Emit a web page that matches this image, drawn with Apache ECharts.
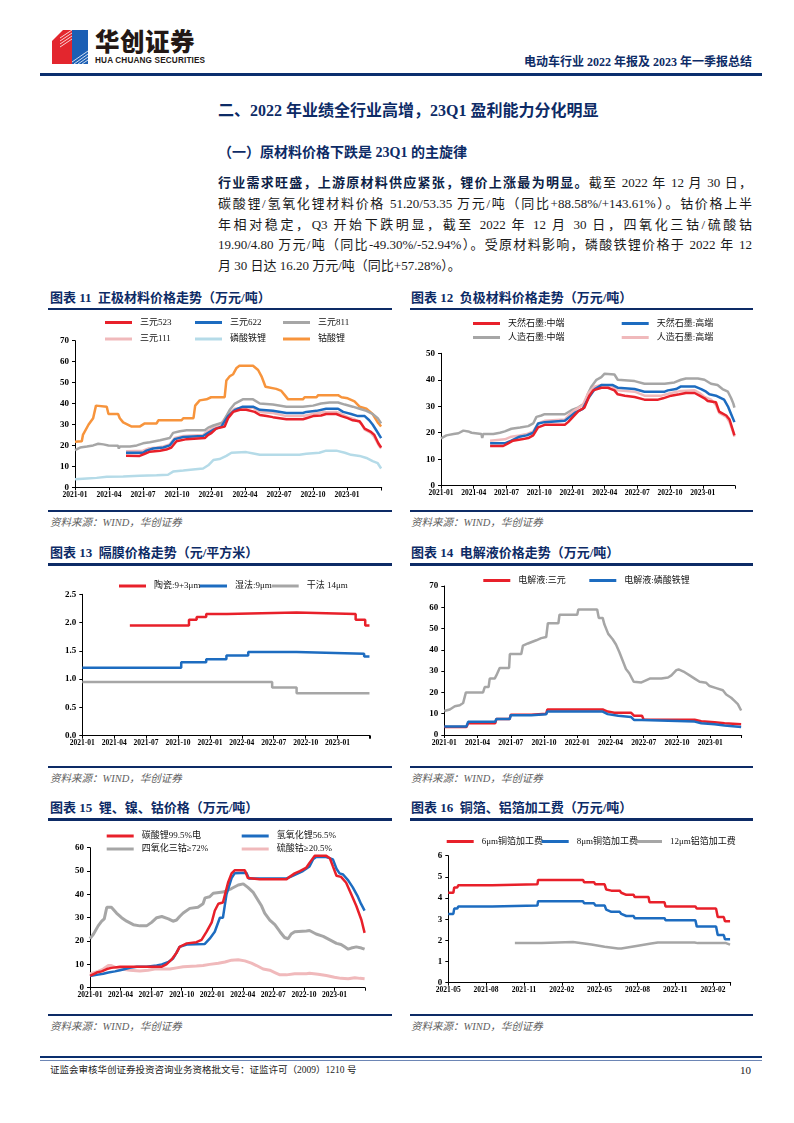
<!DOCTYPE html>
<html><head><meta charset="utf-8">
<script src="https://cdn.jsdelivr.net/npm/echarts@6/dist/echarts.min.js"></script>
<style>
html,body{margin:0;padding:0;background:#fff;}
#page{position:relative;width:794px;height:1123px;overflow:hidden;font-family:"Liberation Serif","Noto Sans CJK SC",serif;color:#111;}
.abs{position:absolute;white-space:nowrap;}
.navy{color:#0d2b66;}
.ttl{font-size:13px;font-weight:bold;color:#0d2b66;line-height:16px;}
.bar{position:absolute;background:#0d2b66;height:2.5px;}
.src{font-size:10.5px;font-style:italic;color:#606060;line-height:14px;}
.chart{position:absolute;width:360px;height:200px;}
.para{position:absolute;left:218px;width:534px;font-size:13px;line-height:16px;text-align:justify;text-align-last:justify;white-space:nowrap;color:#1a1a1a;}
</style></head>
<body><div id="page">
<!-- logo -->
<svg class="abs" style="left:52px;top:29px" width="40" height="36" viewBox="0 0 40 36">
  <polygon points="0,12 11,1 20,1 20,35 0,35" fill="#e3262e"/>
  <rect x="20" y="1" width="16" height="34" fill="#1c5fb4"/>
  <g stroke="#fff" stroke-width="0.8">
    <line x1="8" y1="9" x2="20" y2="1"/><line x1="8" y1="12" x2="20" y2="4"/><line x1="8" y1="15" x2="20" y2="7"/><line x1="8" y1="18" x2="20" y2="10"/>
    <line x1="20" y1="33" x2="36" y2="22"/><line x1="22" y1="35" x2="36" y2="25"/><line x1="26" y1="35" x2="36" y2="28"/><line x1="30" y1="35" x2="36" y2="31"/>
  </g>
</svg>
<div class="abs" style="left:95px;top:26px;font-family:'Noto Sans CJK SC';font-weight:900;font-size:24.5px;line-height:30px;color:#231815;letter-spacing:0.5px">华创证券</div>
<div class="abs" style="left:95px;top:56px;font-family:'Liberation Sans';font-weight:bold;font-size:8.2px;line-height:9px;color:#231815;letter-spacing:0.15px">HUA CHUANG SECURITIES</div>
<div class="abs navy" style="right:42px;top:54px;font-size:12px;font-weight:bold;line-height:16px">电动车行业 2022 年报及 2023 年一季报总结</div>
<div class="abs" style="left:40px;top:73px;width:722px;height:3px;background:#0a2f6e"></div>

<div class="abs navy" style="left:218px;top:102px;font-size:16px;font-weight:bold;line-height:18px">二、2022 年业绩全行业高增，23Q1 盈利能力分化明显</div>
<div class="abs navy" style="left:218px;top:145px;font-size:14px;font-weight:bold;line-height:16px">（一）原材料价格下跌是 23Q1 的主旋律</div>

<div class="para" style="top:175px"><b style="color:#0d1f47">行业需求旺盛，上游原材料供应紧张，锂价上涨最为明显。</b>截至 2022 年 12 月 30 日，</div>
<div class="para" style="top:196px">碳酸锂/氢氧化锂材料价格 51.20/53.35 万元/吨（同比+88.58%/+143.61%）。钴价格上半</div>
<div class="para" style="top:216.5px">年相对稳定，Q3 开始下跌明显，截至 2022 年 12 月 30 日，四氧化三钴/硫酸钴</div>
<div class="para" style="top:237px">19.90/4.80 万元/吨（同比-49.30%/-52.94%）。受原材料影响，磷酸铁锂价格于 2022 年 12</div>
<div class="para" style="top:258px;text-align-last:left">月 30 日达 16.20 万元/吨（同比+57.28%）。</div>

<!-- chart titles -->
<div class="abs ttl" style="left:50px;top:290px">图表 11&nbsp; 正极材料价格走势（万元/吨）</div>
<div class="abs ttl" style="left:411px;top:290px">图表 12&nbsp; 负极材料价格走势（万元/吨）</div>
<div class="bar" style="left:48px;top:307.5px;width:344px"></div>
<div class="bar" style="left:410px;top:307.5px;width:343px"></div>
<div class="bar" style="left:48px;top:509.5px;width:344px"></div>
<div class="bar" style="left:410px;top:509.5px;width:343px"></div>
<div class="abs src" style="left:50px;top:516px">资料来源：WIND，华创证券</div>
<div class="abs src" style="left:411px;top:516px">资料来源：WIND，华创证券</div>

<div class="abs ttl" style="left:50px;top:545px">图表 13&nbsp; 隔膜价格走势（元/平方米）</div>
<div class="abs ttl" style="left:411px;top:545px">图表 14&nbsp; 电解液价格走势（万元/吨）</div>
<div class="bar" style="left:48px;top:563px;width:344px"></div>
<div class="bar" style="left:410px;top:563px;width:343px"></div>
<div class="bar" style="left:48px;top:765.5px;width:344px"></div>
<div class="bar" style="left:410px;top:765.5px;width:343px"></div>
<div class="abs src" style="left:50px;top:772px">资料来源：WIND，华创证券</div>
<div class="abs src" style="left:411px;top:772px">资料来源：WIND，华创证券</div>

<div class="abs ttl" style="left:50px;top:800px">图表 15&nbsp; 锂、镍、钴价格（万元/吨）</div>
<div class="abs ttl" style="left:411px;top:800px">图表 16&nbsp; 铜箔、铝箔加工费（万元/吨）</div>
<div class="bar" style="left:48px;top:818px;width:344px"></div>
<div class="bar" style="left:410px;top:818px;width:343px"></div>
<div class="bar" style="left:48px;top:1013.5px;width:344px"></div>
<div class="bar" style="left:410px;top:1013.5px;width:343px"></div>
<div class="abs src" style="left:50px;top:1020px">资料来源：WIND，华创证券</div>
<div class="abs src" style="left:411px;top:1020px">资料来源：WIND，华创证券</div>

<div id="c11" class="chart" style="left:40px;top:310px"></div>
<div id="c12" class="chart" style="left:405px;top:310px"></div>
<div id="c13" class="chart" style="left:40px;top:565px"></div>
<div id="c14" class="chart" style="left:405px;top:565px"></div>
<div id="c15" class="chart" style="left:40px;top:820px"></div>
<div id="c16" class="chart" style="left:405px;top:820px"></div>

<div class="abs" style="left:40px;top:1056px;width:722px;height:2px;background:#0a2f6e"></div>
<div class="abs" style="left:40px;top:1059.5px;width:722px;height:1px;background:#6d86b5"></div>
<div class="abs" style="left:50px;top:1064px;font-size:9.5px;line-height:13px;color:#222">证监会审核华创证券投资咨询业务资格批文号：证监许可（2009）1210 号</div>
<div class="abs" style="left:740px;top:1063px;font-size:11px;line-height:14px;color:#222">10</div>
</div>

<script>
// x values = months elapsed since the chart's first axis month (fractional)
// ---- 图表11 正极材料 (万元/吨), base 2021-01
const T11_523 = [[4.5,15.1],[5.7,15],[6.15,16],[6.6,17],[7.5,17.5],[8.05,18],[8.5,19],[8.95,22],[9.85,23],[11.45,23.5],[11.75,25],[12.05,26],[12.45,28],[13.2,29],[13.5,33],[13.95,36],[14.55,37],[15.1,37],[15.85,36],[16.3,34.5],[16.9,34],[17.45,33.5],[18.65,32.5],[20.1,32.5],[20.4,33],[21.0,34],[21.7,34.3],[22.15,35],[23.05,35],[23.5,34],[24.05,33],[24.5,32],[25.1,31.5],[25.55,28],[26.1,26.5],[26.4,25],[26.75,21],[27,19]];
const T11_622 = [[4.5,16.5],[6.0,16.5],[6.3,17.5],[6.9,18.5],[7.8,19],[8.35,20],[8.8,23],[9.55,24],[11.3,24.5],[11.75,26],[12.2,27.5],[12.9,29],[13.5,34],[14.1,37],[14.8,38.5],[15.7,38.5],[16.3,37],[17.45,36.5],[18.65,35.5],[20.1,35.5],[20.4,36],[21.3,36.5],[22.15,37.5],[23.2,37.5],[23.65,36],[24.35,35],[24.95,34],[25.55,34],[25.95,32],[26.25,30],[26.6,27],[27,23.5]];
const T11_811 = [[0,17.8],[0.45,19],[1.05,19.5],[1.6,20],[2.05,20.8],[2.5,20.5],[2.95,20],[3.8,19.8],[3.87,18.5],[3.95,19.5],[4.85,19.5],[5.45,20],[6.0,21],[6.6,21.5],[7.5,22.5],[8.35,23.5],[8.65,26],[9.25,26.8],[9.85,27.2],[11.45,27.2],[11.75,28.5],[12.2,29.5],[13.05,31],[13.65,37],[14.1,40],[14.8,42],[15.7,42],[16.3,40],[17.45,39.5],[18.65,38.5],[20.1,38.5],[21.0,39],[21.7,40],[22.45,40.5],[23.2,40.5],[23.8,39.5],[24.5,38.5],[25.1,37.5],[25.7,36.5],[26.25,35],[26.7,33],[27,30.5]];
const T11_111 = [[4.5,17.2],[6.0,17.5],[6.45,18.5],[7.2,19],[7.8,19.5],[8.35,20.5],[8.8,23.5],[9.55,24.5],[11.3,25],[11.75,27],[12.2,28.5],[12.9,30.5],[13.5,35],[14.1,37.5],[14.8,38],[15.7,38],[16.3,36],[17.45,35.5],[18.65,34],[20.1,34],[21.0,35],[21.85,35.8],[23.05,36],[23.5,35],[24.05,33.5],[24.65,32.5],[25.25,30.5],[25.55,27.5],[26.1,26],[26.4,24],[26.8,20],[27,18.5]];
const T11_LFP = [[0,3.8],[1.05,4.2],[1.9,4.5],[2.8,5],[4.25,5.2],[5.7,5.5],[7.2,5.7],[8.2,6],[8.65,7.5],[9.55,8],[10.4,8.5],[11.3,9],[11.75,10.5],[12.2,13],[12.75,13.5],[13.35,15],[13.8,16.5],[15.1,16.8],[15.85,16],[16.3,15.5],[19.8,15.5],[20.4,16],[21.55,16.5],[22.15,17.5],[23.05,17.5],[23.8,16.5],[24.35,15.5],[25.1,15],[25.7,14],[26.25,12.5],[26.7,11.5],[27,9]];
const T11_LCO = [[0,21.8],[0.6,22],[0.7,25],[1.2,30],[1.6,33],[1.85,39],[2.8,38.5],[2.95,35],[3.8,35],[3.95,33],[4.25,31],[5.0,29],[5.7,29],[6.15,30.5],[7.2,30.5],[7.35,32],[9.4,32],[9.55,33],[10.45,33],[10.6,39],[11.0,41.5],[11.6,42],[12.0,43],[13.2,43],[13.35,51],[13.65,53],[13.95,54],[14.25,57],[14.5,58],[15.7,58],[16.15,56],[16.45,53],[16.8,48],[17.75,47],[18.2,46],[18.5,44],[18.8,42],[20.1,42],[20.25,43],[21.3,43],[21.45,44],[23.2,44],[23.5,43],[24.05,42.5],[24.65,41],[25.1,38.5],[25.7,37.5],[26.25,35],[26.7,31],[27,29]];
// ---- 图表12 负极材料, base 2021-01
const T12_NAT_MID = [[4.5,15],[5.7,15],[6.15,16],[6.6,17],[7.4,17.5],[8.0,18],[8.45,19],[8.9,22],[9.5,23],[11.35,23],[11.65,24],[12.1,26],[12.55,28],[13.15,29.5],[13.6,34],[13.95,36],[14.7,37],[15.3,37],[15.9,36],[16.2,34.5],[16.85,34],[17.75,33.5],[18.65,32.5],[19.9,32.5],[20.35,33],[21.1,34],[21.85,34.5],[22.45,35],[23.25,35],[23.7,34],[24.15,33],[24.45,32],[25.2,31.5],[25.5,28],[26.15,26.5],[26.45,25],[26.75,21],[26.9,19]];
const T12_NAT_HIGH = [[4.5,16],[5.85,16],[6.45,17],[7.2,18.5],[7.85,19],[8.45,20],[8.9,23.5],[9.5,24],[11.35,24.5],[11.8,26],[12.25,27.5],[13.0,29],[13.5,33],[14.1,36.5],[14.7,38],[15.75,38],[16.2,37],[17.75,36.5],[18.65,35.5],[20.5,35.5],[20.8,36],[21.55,36.5],[22.0,37.5],[23.25,37.5],[23.85,36.5],[24.3,35.5],[24.6,34.5],[25.2,34],[25.95,32.5],[26.3,30],[26.6,27],[26.9,24]];
const T12_ART_MID = [[0,17.9],[0.5,19],[1.15,19.5],[1.6,19.8],[2.05,20.8],[2.5,20.5],[2.8,20],[3.7,19.5],[3.78,18],[3.87,19.5],[4.8,19.5],[5.4,20],[5.85,20.5],[6.45,21.5],[7.25,22],[8.0,22.5],[8.45,23.5],[8.75,26],[9.2,26.5],[9.5,27],[11.35,27],[11.95,28.5],[12.55,29.5],[13.15,31],[13.5,35],[13.8,37.5],[14.25,40],[14.7,41],[15.0,42.3],[15.9,42],[16.2,40],[17.75,39.5],[18.65,38.5],[20.5,38.5],[21.4,39],[22.0,40],[22.45,40.5],[23.55,40.5],[24.15,40],[24.75,38.5],[25.35,38],[25.8,36.5],[26.3,35.5],[26.6,33],[26.8,31],[26.9,29.5]];
const T12_ART_HIGH = [[4.5,17],[5.85,17.5],[6.45,18.5],[7.2,19],[7.85,19.5],[8.45,20.5],[8.9,23.5],[9.5,24.5],[11.35,25],[11.8,27],[12.25,28.5],[13.0,30.5],[13.5,35],[14.1,37.5],[14.7,38],[15.6,37.8],[16.2,36],[17.75,35.5],[18.65,34],[20.2,34],[21.1,35],[22.0,35.8],[23.25,36],[23.7,35],[24.15,33.5],[24.75,32.5],[25.2,30.5],[25.5,27.5],[26.15,26],[26.45,24],[26.75,20.5],[26.9,18.5]];
// ---- 图表13 隔膜 (元/平方米), base 2021-01, step changes
const T13_CER = [[4.47,1.95],[10.03,2.05],[10.75,2.1],[11.65,2.15],[13.6,2.18],[20.15,2.15],[25.7,2.05],[26.6,1.95],[27,1.95]];
const T13_WET = [[0,1.2],[9.3,1.3],[11.65,1.35],[13.55,1.42],[15.6,1.48],[20.15,1.45],[26.5,1.4],[27,1.4]];
const T13_DRY = [[0,0.95],[17.85,0.85],[20.15,0.75],[27,0.75]];
// ---- 图表14 电解液, base 2021-01
const T14_LIPF6 = [[0,11.3],[0.5,12],[0.95,13.5],[1.4,14],[1.7,15],[1.95,20],[3.5,20],[3.65,22.5],[4.0,22.5],[4.1,26.5],[4.55,26.5],[4.7,28],[5.0,31.5],[5.85,31.5],[5.92,38],[6.95,38],[7.1,42],[7.55,43],[8.3,44.5],[8.75,45.5],[9.2,46],[9.35,52.5],[10.3,52.5],[10.4,56.5],[12.0,56.5],[12.1,59],[13.8,59],[13.95,55],[14.3,55],[14.45,52],[14.8,47.5],[15.2,45],[15.5,42.5],[15.8,39],[16.1,35],[16.4,31],[16.7,29],[17.1,25],[17.8,24.7],[18.55,26.5],[19.6,26.5],[20.2,27],[20.5,28],[20.95,30.5],[21.15,30.8],[21.7,29.5],[22.15,28],[22.6,26.5],[23.05,25],[23.65,24.5],[23.95,23],[24.55,22],[25.15,21],[25.45,19],[25.9,17.5],[26.2,16],[26.5,14.5],[26.8,11.5]];
const T14_NCM = [[0,3.8],[2.0,3.8],[2.15,5.5],[4.6,5.5],[4.7,7.5],[5.9,7.5],[6.0,9.5],[7.85,9.5],[8.0,10],[9.2,10],[9.3,12],[14.3,12],[14.75,11],[15.35,10.5],[16.85,10.5],[17.15,9],[17.85,9],[18.0,7.2],[22.6,7.2],[23.2,6.5],[24.4,6],[25.3,5.5],[26.8,5]];
const T14_LFP = [[0,4],[2.0,4],[2.15,6.2],[4.6,6.2],[4.7,7.5],[5.9,7.5],[6.0,9.3],[7.85,9.3],[8.0,9.8],[9.2,9.8],[9.3,11],[14.3,11],[14.75,9.8],[15.7,9],[16.85,8.5],[17.15,7],[17.85,7],[18.0,6.3],[22.6,6.3],[23.2,5.5],[24.4,5],[25.3,4.5],[26.8,3.8]];
// ---- 图表15 锂、镍、钴价格, base 2021-01
const T15_LI2CO3 = [[0,5.1],[0.65,6.5],[1.15,7],[1.65,8],[2.1,8.5],[2.95,9],[5.9,9],[7.05,9],[7.5,10],[8.0,12],[8.5,15],[8.8,17.5],[9.5,19],[10.45,19.5],[10.95,20.5],[11.45,24],[11.95,28],[12.25,33],[12.6,36],[13.05,36.5],[13.55,45],[13.9,49],[14.2,50.3],[15.2,50.3],[15.5,47],[16.65,46.5],[19.3,46.5],[19.6,47.5],[20.1,49],[20.6,50],[21.25,51.5],[21.55,53.5],[22.05,56.5],[23.2,56.5],[23.55,55.5],[23.85,52],[24.2,48],[24.65,47.5],[25.15,45],[25.65,40],[26.15,35],[26.65,29],[26.96,23.5]];
const T15_LIOH = [[0,5],[0.65,5.5],[1.3,6],[1.8,6.5],[2.45,7],[2.95,7.5],[3.45,8],[3.9,8.5],[4.6,9],[5.55,9],[6.55,9.5],[7.05,10],[7.7,11],[8.15,12.5],[8.5,15],[8.8,17.5],[9.5,18.5],[11.25,18.7],[11.75,21],[12.25,24],[12.75,30],[13.05,30],[13.4,40],[13.9,47],[14.2,49],[15.35,49.3],[15.6,46.8],[19.3,46.8],[19.95,48],[20.9,50],[21.55,52],[21.9,55],[22.2,56],[23.2,56],[23.85,55],[24.2,51],[24.5,49],[24.85,48.5],[25.35,46],[25.8,43],[26.3,39],[26.6,36],[26.96,33]];
const T15_CO3O4 = [[0,21],[0.35,23],[0.8,26.5],[1.15,28.5],[1.4,29.5],[1.65,34.5],[2.1,34.5],[2.6,32],[3.1,30],[3.6,28.5],[4.25,27],[4.9,26.5],[5.55,26.5],[6.05,28],[6.55,30],[7.05,30.5],[7.7,29.5],[8.15,28.5],[8.5,29],[8.8,30.5],[9.15,32],[9.8,34],[10.6,34.5],[11.1,36],[11.3,38.5],[11.75,39],[12.1,40.5],[13.05,41],[13.9,42.5],[14.55,44],[15.05,44.5],[15.5,43],[16.0,41],[16.5,37.5],[16.85,35],[17.15,32],[17.65,29],[18.15,27],[18.65,24],[19.1,21.5],[19.45,21],[19.75,23],[20.1,24],[21.25,24.3],[21.55,24.5],[22.2,23],[22.9,22],[23.55,20.5],[24.2,19],[24.65,18.5],[25.0,17.5],[25.35,16.5],[25.65,17],[26.15,17.5],[26.65,17],[26.96,16.5]];
const T15_COSO4 = [[0,5.9],[0.8,7],[1.3,8],[1.8,9.5],[2.1,9.5],[2.6,8.5],[3.1,8],[3.9,7.5],[4.9,7.2],[5.7,7.5],[6.35,8],[7.85,8],[8.5,8.5],[9.15,9],[10.45,9.3],[11.1,9.5],[11.75,10],[12.6,10.5],[13.25,11],[13.9,11.8],[14.55,12],[15.2,11.5],[15.85,10.5],[16.35,9.5],[17.0,8],[17.65,7.5],[18.15,6.5],[18.65,5.5],[19.3,5.5],[20.1,6],[21.25,6],[21.55,6.2],[22.4,5.8],[23.2,5.2],[24.0,4.5],[24.65,4],[25.35,3.8],[26.0,4.3],[26.5,4],[26.96,3.8]];
// ---- 图表16 铜箔/铝箔加工费, base 2021-05
const T16_CU6 = [[0,4.25],[0.4,4.25],[0.47,4.5],[0.71,4.5],[0.79,4.6],[3.48,4.6],[3.56,4.65],[7.07,4.65],[7.12,4.85],[10.69,4.85],[10.77,4.75],[11.56,4.75],[11.66,4.65],[12.4,4.65],[12.53,4.4],[12.93,4.35],[13.59,4.35],[13.72,4.25],[14.12,4.15],[14.7,4.15],[14.78,4.05],[15.88,4.05],[15.96,3.8],[17.15,3.8],[17.23,3.6],[19.6,3.6],[19.71,3.5],[21.24,3.5],[21.37,3.1],[21.85,3.1],[21.95,2.9],[22.35,2.9]];
const T16_CU8 = [[0,3.25],[0.4,3.25],[0.47,3.5],[0.71,3.5],[0.79,3.6],[3.48,3.6],[3.56,3.65],[7.07,3.65],[7.12,3.85],[10.69,3.85],[10.77,3.75],[11.56,3.75],[11.66,3.65],[12.4,3.65],[12.53,3.45],[12.93,3.35],[13.59,3.35],[13.72,3.25],[14.12,3.15],[14.7,3.15],[14.78,3.05],[17.15,3.05],[17.23,2.95],[19.6,2.95],[19.71,2.65],[21.24,2.65],[21.37,2.25],[21.85,2.25],[21.95,2.05],[22.35,2.05]];
const T16_AL12 = [[5.28,1.87],[7.39,1.87],[7.52,1.92],[9.89,1.92],[11.35,1.8],[12.4,1.7],[13.46,1.62],[13.72,1.62],[15.04,1.75],[16.09,1.85],[16.62,1.9],[19.53,1.9],[19.79,1.87],[22.03,1.87],[22.35,1.8]];

const C = {red:'#e8202a', blue:'#1d6cc0', gray:'#a6a6a6', pink:'#f0b9bb', lblue:'#b5dbe8', orange:'#f7943c'};
const FONT = '"Liberation Serif","Noto Sans CJK SC",serif';

function monthLabel(baseY, baseM, last){
  return function(v){
    if (v > last + 0.01) return '';
    const t = baseM - 1 + Math.round(v);
    const y = baseY + Math.floor(t/12), m = t%12 + 1;
    return y + '-' + (m<10?'0':'') + m;
  };
}
function line(name, data, color, width, step){
  return {type:'line', name:name, data:data, symbol:'none', step:step||false, smooth:false,
    lineStyle:{color:color, width:width||2.5}, itemStyle:{color:color}, emphasis:{disabled:true}};
}
function legends(items){
  return items.map(it => ({data:[it[0]], left:it[1], top:it[2], icon:'rect', itemWidth:27, itemHeight:3,
    itemGap:0, padding:0, selectedMode:false,
    textStyle:{fontSize:9, fontFamily:FONT, color:'#111', padding:[0,0,0,3]}}));
}
function build(id, o){
  const ch = echarts.init(document.getElementById(id), null, {renderer:'canvas'});
  ch.setOption({
    animation:false,
    grid:o.grid,
    legend:legends(o.legend),
    xAxis:{type:'value', min:0, max:o.xmax, interval:3,
      axisLine:{show:true, lineStyle:{color:'#000', width:1}},
      axisTick:{show:true, length:3, lineStyle:{color:'#000'}},
      splitLine:{show:false},
      axisLabel:{formatter:o.fmt, fontSize:7.5, fontWeight:'bold', fontFamily:FONT, color:'#000', margin:4}},
    yAxis:{type:'value', min:0, max:o.ymax, interval:o.yint,
      axisLine:{show:true, lineStyle:{color:'#000', width:1}},
      axisTick:{show:true, length:3, lineStyle:{color:'#000'}},
      splitLine:{show:false},
      axisLabel:{formatter:o.yfmt, fontSize:9, fontWeight:'bold', fontFamily:FONT, color:'#000', margin:6}},
    series:o.series
  });
}
const f2021 = monthLabel(2021,1,24);
build('c11', {grid:{left:35, top:30.7, right:18.3, bottom:22.7}, xmax:27.05, ymax:70, yint:10, fmt:f2021,
  legend:[['三元523',65,8],['三元622',155,8],['三元811',243,8],['三元111',65,24.5],['磷酸铁锂',155,24.5],['钴酸锂',243,24.5]],
  series:[line('三元111',T11_111,C.pink), line('磷酸铁锂',T11_LFP,C.lblue), line('钴酸锂',T11_LCO,C.orange),
          line('三元811',T11_811,C.gray), line('三元622',T11_622,C.blue), line('三元523',T11_523,C.red)]});
build('c12', {grid:{left:36, top:43.3, right:30, bottom:24.3}, xmax:26.95, ymax:50, yint:10, fmt:f2021,
  legend:[['天然石墨:中端',68,9],['天然石墨:高端',216.7,9],['人造石墨:中端',68,23],['人造石墨:高端',216.7,23]],
  series:[line('人造石墨:中端',T12_ART_MID,C.gray), line('人造石墨:高端',T12_ART_HIGH,C.pink),
          line('天然石墨:高端',T12_NAT_HIGH,C.blue), line('天然石墨:中端',T12_NAT_MID,C.red)]});
build('c13', {grid:{left:42.3, top:29.3, right:30, bottom:29.3}, xmax:27.05, ymax:2.5, yint:0.5, fmt:f2021,
  yfmt:v=>v.toFixed(1),
  legend:[['陶瓷:9+3μm',79,16.5],['湿法:9μm',160,16.5],['干法 14μm',231.7,16.5]],
  series:[line('干法 14μm',T13_DRY,C.gray,2.5,'end'), line('湿法:9μm',T13_WET,C.blue,2.5,'end'), line('陶瓷:9+3μm',T13_CER,C.red,2.5,'end')]});
build('c14', {grid:{left:39.3, top:21, right:23.3, bottom:30}, xmax:26.85, ymax:70, yint:10, fmt:f2021,
  legend:[['电解液:三元',78.3,11],['电解液:磷酸铁锂',184.3,11]],
  series:[line('六氟磷酸锂',T14_LIPF6,C.gray), line('电解液:三元',T14_NCM,C.red), line('电解液:磷酸铁锂',T14_LFP,C.blue)]});
build('c15', {grid:{left:50, top:27.7, right:35, bottom:32.3}, xmax:27.0, ymax:60, yint:10, fmt:f2021,
  legend:[['碳酸锂99.5%电',66.7,11.5],['氢氧化锂56.5%',201.7,11.5],['四氧化三钴≥72%',66.7,24.5],['硫酸钴≥20.5%',201.7,24.5]],
  series:[line('硫酸钴≥20.5%',T15_COSO4,C.pink,3), line('四氧化三钴≥72%',T15_CO3O4,C.gray,3),
          line('氢氧化锂56.5%',T15_LIOH,C.blue), line('碳酸锂99.5%电',T15_LI2CO3,C.red)]});
build('c16', {grid:{left:43.3, top:35.7, right:34.3, bottom:37.3}, xmax:22.4, ymax:6, yint:1, fmt:monthLabel(2021,5,21),
  legend:[['6μm铜箔加工费',41.7,17],['8μm铜箔加工费',136.7,17],['12μm铝箔加工费',230,17]],
  series:[line('12μm铝箔加工费',T16_AL12,C.gray), line('8μm铜箔加工费',T16_CU8,C.blue), line('6μm铜箔加工费',T16_CU6,C.red)]});
</script>
</body></html>
